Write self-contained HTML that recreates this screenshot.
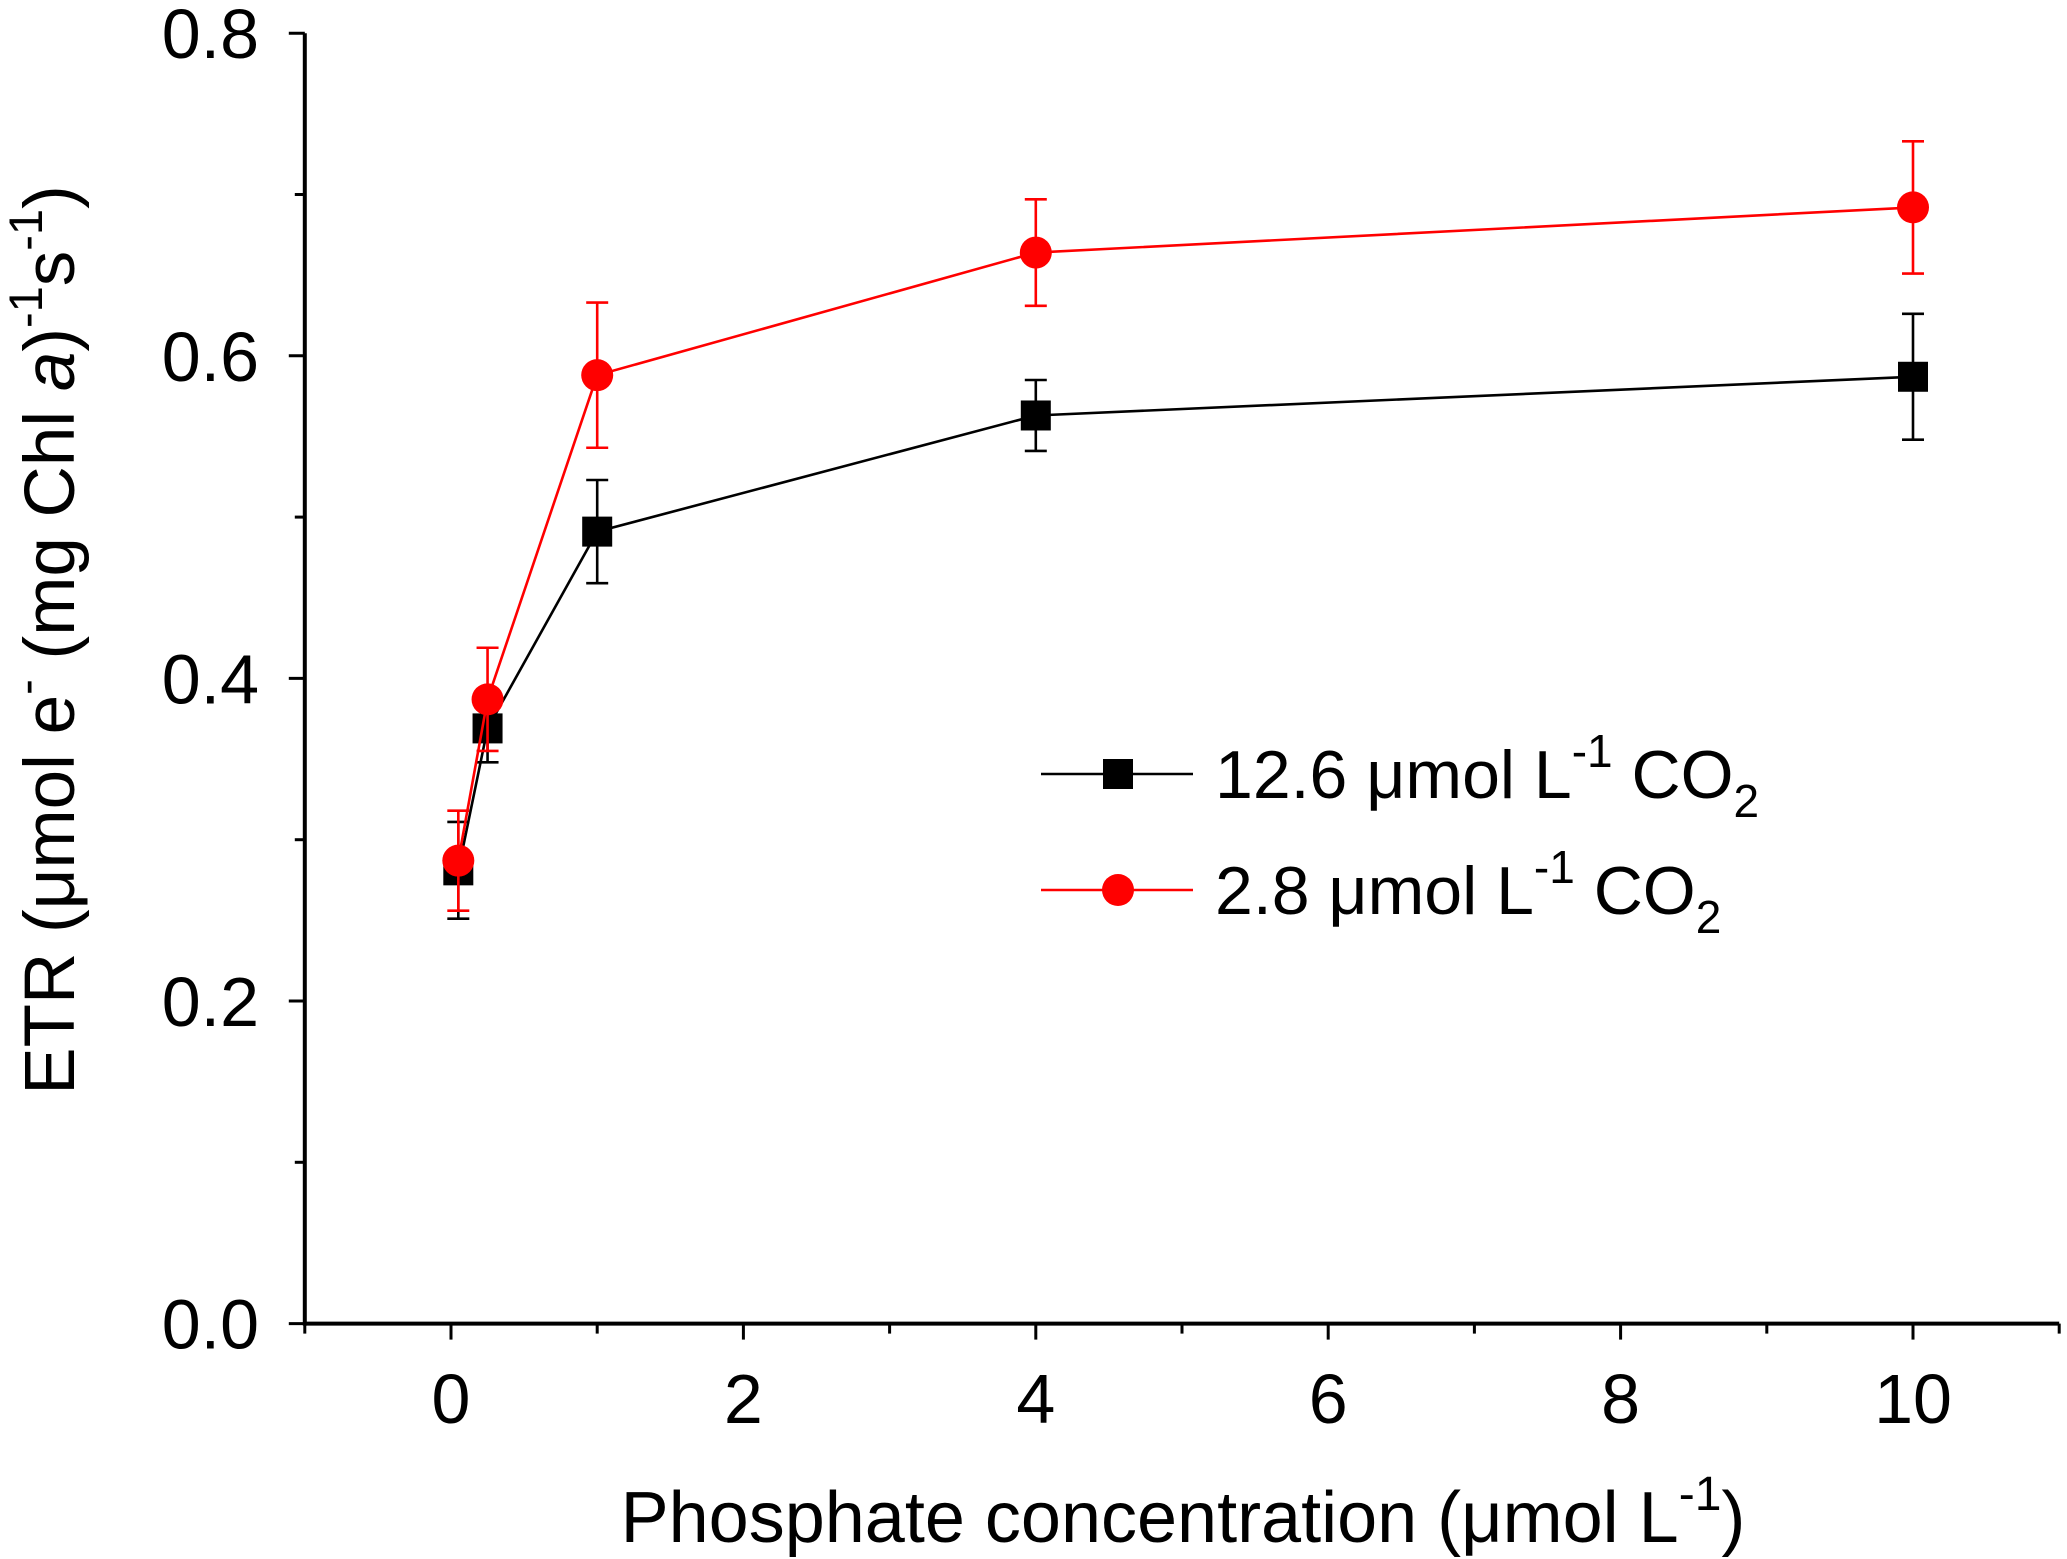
<!DOCTYPE html>
<html><head><meta charset="utf-8"><style>
html,body{margin:0;padding:0;background:#fff;}
svg{display:block;font-family:"Liberation Sans",Arial,sans-serif;}
</style></head><body>
<svg id="chart" width="2067" height="1559" viewBox="0 0 2067 1559" xmlns="http://www.w3.org/2000/svg">
<g id="axes"></g>
<g id="series"></g>
<g id="legend">
  <line x1="1041" y1="774" x2="1193" y2="774" stroke="#000" stroke-width="2.6"/>
  <rect x="1103" y="759" width="30" height="30" fill="#000"/>
  <text x="1215" y="798" font-size="68">12.6 μmol L<tspan font-size="46" dy="-31">-1</tspan><tspan dy="31"> CO</tspan><tspan font-size="46" dy="19">2</tspan></text>
  <line x1="1041" y1="890" x2="1193" y2="890" stroke="#f00" stroke-width="2.6"/>
  <circle cx="1118" cy="890" r="16" fill="#f00"/>
  <text x="1215" y="914" font-size="68">2.8 μmol L<tspan font-size="46" dy="-31">-1</tspan><tspan dy="31"> CO</tspan><tspan font-size="46" dy="19">2</tspan></text>
</g>
<text x="1183" y="1542" font-size="72" text-anchor="middle">Phosphate concentration (μmol L<tspan font-size="48" dy="-32">-1</tspan><tspan dy="32">)</tspan></text>
<text transform="translate(74,640) rotate(-90)" font-size="71" text-anchor="middle">ETR (μmol e<tspan font-size="47" dy="-32">-</tspan><tspan dy="32"> (mg Chl </tspan><tspan font-style="italic">a</tspan>)<tspan font-size="47" dy="-32">-1</tspan><tspan dy="32">s</tspan><tspan font-size="47" dy="-32">-1</tspan><tspan dy="32">)</tspan></text>
</svg>
<script>
const xValues = [0.05, 0.25, 1, 4, 10];
const blackValues = [0.281, 0.369, 0.491, 0.563, 0.587];
const blackErrors = [0.030, 0.021, 0.032, 0.022, 0.039];
const redValues = [0.287, 0.387, 0.588, 0.664, 0.692];
const redErrors = [0.031, 0.032, 0.045, 0.033, 0.041];
const xTickLabels = ["0", "2", "4", "6", "8", "10"];
const yTickLabels = ["0.0", "0.2", "0.4", "0.6", "0.8"];

const NS = "http://www.w3.org/2000/svg";
const X0 = 451, XU = 146.2, Y0 = 1323.6, YU = 1613;
function sx(v){ return X0 + v * XU; }
function sy(v){ return Y0 - v * YU; }
function mk(tag, attrs, parent){
  const e = document.createElementNS(NS, tag);
  for (const k in attrs) e.setAttribute(k, attrs[k]);
  parent.appendChild(e);
  return e;
}
const axes = document.getElementById('axes');
let l = mk('line', {x1: sx(-1), y1: Y0, x2: sx(11), y2: Y0, stroke: '#000', 'stroke-width': 4}, axes);


l = mk('line', {x1: sx(-1), y1: Y0 + 2, x2: sx(-1), y2: sy(0.8), stroke: '#000', 'stroke-width': 4}, axes);


for (let i = -1; i <= 11; i++) {
  const major = i % 2 === 0;
  const t = mk('line', {x1: sx(i), y1: Y0, x2: sx(i), y2: Y0 + (major ? 16 : 10), stroke: '#000', 'stroke-width': 3}, axes);
  
  
}
xTickLabels.forEach((s) => {
  const t = mk('text', {x: sx(parseFloat(s)), y: 1423, 'font-size': 70, 'text-anchor': 'middle'}, axes);
  t.textContent = s;
  
  
});
for (let i = 0; i <= 8; i++) {
  const v = i / 10;
  const major = i % 2 === 0;
  const t = mk('line', {x1: sx(-1), y1: sy(v), x2: sx(-1) - (major ? 16 : 10), y2: sy(v), stroke: '#000', 'stroke-width': 3}, axes);
  
  
}
yTickLabels.forEach((s) => {
  const t = mk('text', {x: 259, y: sy(parseFloat(s)) + 25, 'font-size': 70, 'text-anchor': 'end'}, axes);
  t.textContent = s;
  
  
});

const series = document.getElementById('series');
function drawSeries(vals, errs, color, shape, name){
  const g = mk('g', {}, series);
  
  
  const pts = xValues.map((x, i) => sx(x) + ',' + sy(vals[i])).join(' ');
  const pl = mk('polyline', {points: pts, fill: 'none', stroke: color, 'stroke-width': 2.6}, g);
  
  
  xValues.forEach((x, i) => {
    const cx = sx(x), top = sy(vals[i] + errs[i]), bot = sy(vals[i] - errs[i]);
    const eb = mk('path', {d: `M${cx},${top}V${bot}M${cx-11},${top}H${cx+11}M${cx-11},${bot}H${cx+11}`, stroke: color, 'stroke-width': 2.6, fill: 'none'}, g);
    
    
  });
  xValues.forEach((x, i) => {
    let m;
    if (shape === 'square') m = mk('rect', {x: sx(x) - 15, y: sy(vals[i]) - 15, width: 30, height: 30, fill: color}, g);
    else m = mk('circle', {cx: sx(x), cy: sy(vals[i]), r: 16, fill: color}, g);
    
    
  });
}
drawSeries(blackValues, blackErrors, '#000', 'square', 'series-12-6-co2');
drawSeries(redValues, redErrors, '#f00', 'circle', 'series-2-8-co2');
</script>
</body></html>
